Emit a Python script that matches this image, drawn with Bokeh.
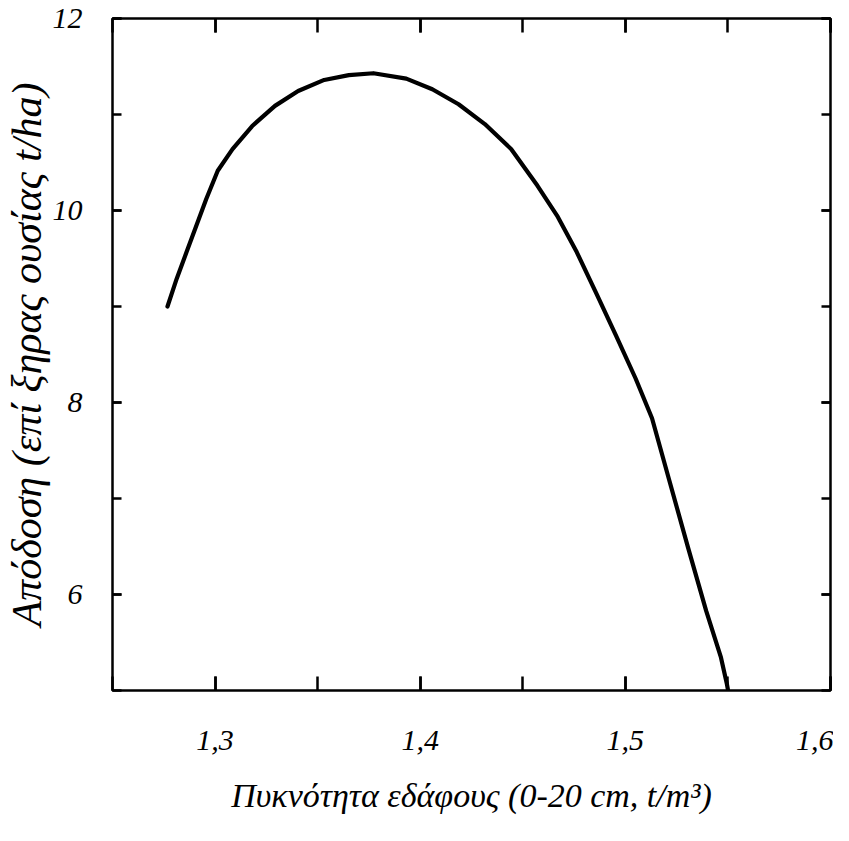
from bokeh.plotting import figure
from bokeh.models import LinearAxis, FixedTicker, Range1d
from bokeh.embed import file_html
from bokeh.resources import INLINE

# Data (soil bulk density vs dry-matter yield)
density = [1.2768, 1.2813, 1.2861, 1.2909, 1.2957, 1.3013, 1.3085, 1.3181,
           1.3292, 1.3405, 1.3532, 1.3652, 1.3772, 1.3932, 1.4059, 1.4187,
           1.4315, 1.4443, 1.4571, 1.4667, 1.4763, 1.4859, 1.4954, 1.5050,
           1.5130, 1.5214, 1.5306, 1.5394, 1.5466, 1.5495, 1.5505]
yield_t = [9.00, 9.29, 9.567, 9.843, 10.12, 10.414, 10.64, 10.88,
           11.09, 11.245, 11.36, 11.41, 11.43, 11.374, 11.263, 11.107,
           10.90, 10.64, 10.26, 9.947, 9.567, 9.134, 8.70, 8.25,
           7.836, 7.19, 6.486, 5.829, 5.344, 5.067, 4.95]

x_major = [1.3, 1.4, 1.5, 1.6]
x_labels = ["1,3", "1,4", "1,5", "1,6"]
x_minor = [1.25, 1.3, 1.35, 1.4, 1.45, 1.5, 1.55, 1.6]
y_major = [6, 8, 10, 12]
y_labels = ["6", "8", "10", "12"]
y_minor = [5, 6, 7, 8, 9, 10, 11, 12]

x_title = "Πυκνότητα εδάφους (0-20 cm, t/m³)"
y_title = "Απόδοση (επί ξηρας ουσίας t/ha)"

FONT = "Liberation Serif"

p = figure(width=833, height=825, output_backend="svg", toolbar_location=None,
           x_range=Range1d(1.25, 1.6), y_range=Range1d(5, 12),
           min_border_left=108, min_border_right=3, min_border_top=18,
           min_border_bottom=135)
p.background_fill_color = "white"
p.border_fill_color = "white"
p.grid.visible = False
p.outline_line_color = "black"
p.outline_line_width = 2.5

p.line(density, yield_t, line_color="black", line_width=4.2,
       line_join="round", line_cap="round")

def style(ax, ticks, minor, labels, tick_len, show_labels=True):
    ax.ticker = FixedTicker(ticks=ticks, minor_ticks=minor)
    ax.major_tick_in = tick_len
    ax.major_tick_out = 0
    ax.minor_tick_in = tick_len
    ax.minor_tick_out = 0
    ax.major_tick_line_width = 2.5
    ax.minor_tick_line_width = 2.5
    ax.axis_line_color = None
    ax.major_label_overrides = dict(zip(ticks, labels))
    ax.major_label_text_font = FONT
    ax.major_label_text_font_style = "italic"
    ax.major_label_text_color = "black"
    ax.major_label_text_font_size = "30px" if show_labels else "0px"

xb = p.xaxis[0]
style(xb, x_major, x_minor, x_labels, 14)
xb.major_label_standoff = 40
xb.axis_label = x_title
xb.axis_label_text_font = FONT
xb.axis_label_text_font_style = "italic"
xb.axis_label_text_font_size = "34px"
xb.axis_label_text_color = "black"
xb.axis_label_standoff = 24

yl = p.yaxis[0]
style(yl, y_major, y_minor, y_labels, 9)
yl.major_label_standoff = 30
yl.axis_label = y_title
yl.axis_label_text_font = FONT
yl.axis_label_text_font_style = "italic"
yl.axis_label_text_font_size = "42px"
yl.axis_label_text_color = "black"
yl.axis_label_standoff = 0

top = LinearAxis()
style(top, x_major, x_minor, ["", "", "", ""], 14, show_labels=False)
top.major_label_standoff = 0
p.add_layout(top, "above")

right = LinearAxis()
style(right, y_major, y_minor, ["", "", "", ""], 9, show_labels=False)
right.major_label_standoff = 0
p.add_layout(right, "right")

open("out.html", "w").write(file_html(p, INLINE))
